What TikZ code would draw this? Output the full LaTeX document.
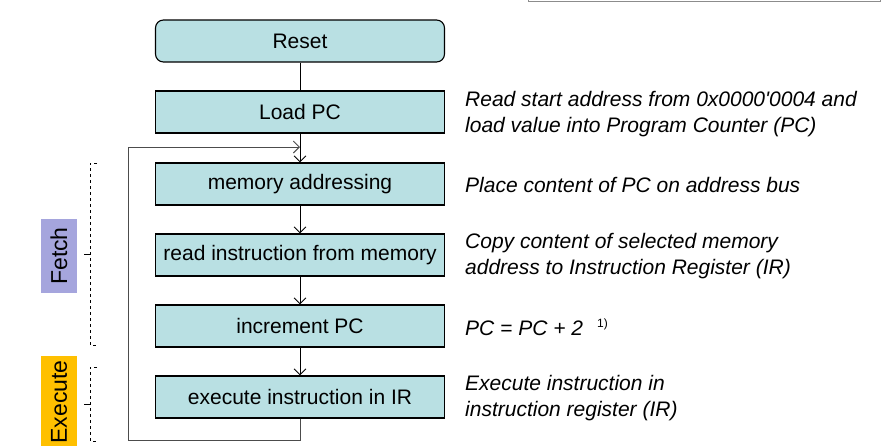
\documentclass[tikz,border=0pt]{standalone}
\usepackage{fontspec}
\setmainfont{Liberation Sans}[Ligatures=TeXOff]
\usepackage{tikz}
\usetikzlibrary{arrows.meta}
\definecolor{boxfill}{RGB}{185,224,227}
\definecolor{fetchfill}{RGB}{165,165,221}
\definecolor{execfill}{RGB}{255,192,0}
\tikzset{
  >={Straight Barb[length=6pt,width=12pt]},
  stepbox/.style={draw,line width=1.1pt,fill=boxfill,minimum width=289pt,minimum height=42pt,
    inner sep=0pt,font=\fontsize{21}{26}\selectfont},
  note/.style={anchor=west,align=left,inner sep=0pt,font=\fontsize{21}{26}\selectfont\itshape},
  phase/.style={rotate=90,minimum width=74pt,minimum height=36pt,inner sep=0pt,font=\fontsize{23}{26}\selectfont},
  flow/.style={->,line width=0.9pt}
}
\begin{document}
\begin{tikzpicture}[x=1pt,y=-1pt]
\useasboundingbox (0,0) rectangle (882,445);
% flow boxes
\node[stepbox,rounded corners=8pt] (reset) at (300,41) {Reset};
\node[stepbox] (loadpc) at (300,112) {Load PC};
\node[stepbox] (memaddr) at (300,184) {memory addressing};
\node[stepbox] (readinstr) at (300,255) {read instruction from memory};
\node[stepbox] (incpc) at (300,326) {increment PC};
\node[stepbox] (exec) at (300,397) {execute instruction in IR};
\coordinate (loop) at (300,147);
\draw[line width=0.9pt] (reset) -- (loadpc);
\draw[flow] (loadpc) -- (memaddr);
\draw[flow] (memaddr) -- (readinstr);
\draw[flow] (readinstr) -- (incpc);
\draw[flow] (incpc) -- (exec);
\draw[flow,black!70] (exec.south) -- (300,440) -| (128,147) -- (loop);
% notes
\node[note] (n1) at (465,114) {Read start address from 0x0000'0004 and\\load value into Program Counter (PC)};
\node[note] (n2) at (465,185) {Place content of PC on address bus};
\node[note] (n3) at (465,256) {Copy content of selected memory\\address to Instruction Register (IR)};
\node[note] (n4) at (465,328) {PC = PC + 2};
\node[anchor=west,inner sep=0pt,font=\fontsize{12}{14}\selectfont] (fn) at (597,324) {1)};
\node[note] (n5) at (465,398) {Execute instruction in\\instruction register (IR)};
% phases
\node[phase,fill=fetchfill] (fetch) at (59,256) {Fetch};
\node[phase,fill=execfill,minimum width=92pt] (execute) at (59,402) {Execute};
\draw[dashed,line width=0.6pt] (97,163) -- (90,163) -- (90,345) -- (97,345);
\draw[line width=0.6pt] (90,254) -- (84,254);
\draw[dashed,line width=0.6pt] (97,367) -- (90,367) -- (90,441) -- (97,441);
\draw[line width=0.6pt] (90,404) -- (84,404);
% frame at top right
\draw[black!45,line width=1pt] (528,-6) -- (528,1) -- (880,1) -- (880,-6);
\end{tikzpicture}
\end{document}
